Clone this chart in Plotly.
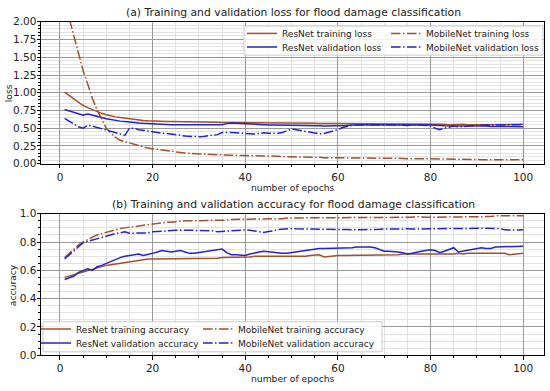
import plotly.graph_objects as go

# ---------------- data ----------------
epochs = list(range(1, 101))

resnet_train_loss = [
    1.01, 0.96, 0.91, 0.86, 0.82, 0.79, 0.76, 0.73, 0.71, 0.69,
    0.67, 0.66, 0.65, 0.64, 0.63, 0.62, 0.615, 0.61, 0.605, 0.60,
    0.60, 0.60, 0.595, 0.595, 0.595, 0.59, 0.59, 0.595, 0.59, 0.59,
    0.59, 0.585, 0.585, 0.585, 0.58, 0.585, 0.58, 0.58, 0.58, 0.575,
    0.575, 0.575, 0.57, 0.575, 0.575, 0.57, 0.575, 0.57, 0.57, 0.57,
    0.57, 0.575, 0.57, 0.57, 0.57, 0.565, 0.57, 0.565, 0.565, 0.565,
    0.565, 0.565, 0.56, 0.565, 0.56, 0.565, 0.56, 0.56, 0.56, 0.56,
    0.56, 0.56, 0.555, 0.56, 0.56, 0.555, 0.56, 0.555, 0.555, 0.555,
    0.555, 0.555, 0.555, 0.55, 0.555, 0.55, 0.555, 0.55, 0.55, 0.55,
    0.55, 0.55, 0.55, 0.55, 0.545, 0.55, 0.55, 0.545, 0.55, 0.555,
]

resnet_val_loss = [
    0.765, 0.745, 0.725, 0.705, 0.685, 0.70, 0.68, 0.665, 0.65, 0.635,
    0.62, 0.61, 0.60, 0.595, 0.585, 0.58, 0.575, 0.57, 0.565, 0.565,
    0.56, 0.555, 0.555, 0.55, 0.55, 0.55, 0.55, 0.55, 0.545, 0.545,
    0.545, 0.545, 0.545, 0.545, 0.55, 0.565, 0.575, 0.57, 0.565, 0.56,
    0.555, 0.555, 0.55, 0.55, 0.545, 0.545, 0.545, 0.545, 0.54, 0.54,
    0.54, 0.54, 0.535, 0.535, 0.535, 0.535, 0.53, 0.53, 0.535, 0.535,
    0.54, 0.54, 0.545, 0.545, 0.545, 0.54, 0.545, 0.545, 0.545, 0.54,
    0.54, 0.54, 0.535, 0.54, 0.54, 0.535, 0.54, 0.545, 0.55, 0.55,
    0.545, 0.54, 0.535, 0.535, 0.54, 0.535, 0.53, 0.535, 0.535, 0.53,
    0.53, 0.53, 0.525, 0.53, 0.525, 0.525, 0.525, 0.52, 0.52, 0.52,
]

mobilenet_train_loss = [
    2.70, 2.05, 1.80, 1.55, 1.31, 1.12, 0.92, 0.76, 0.62, 0.50,
    0.43, 0.37, 0.33, 0.31, 0.29, 0.27, 0.25, 0.235, 0.22, 0.21,
    0.20, 0.19, 0.18, 0.17, 0.165, 0.155, 0.15, 0.145, 0.14, 0.135,
    0.13, 0.13, 0.13, 0.125, 0.125, 0.12, 0.12, 0.12, 0.115, 0.115,
    0.115, 0.11, 0.11, 0.11, 0.105, 0.105, 0.105, 0.10, 0.10, 0.10,
    0.095, 0.095, 0.095, 0.09, 0.09, 0.09, 0.085, 0.085, 0.085, 0.08,
    0.08, 0.085, 0.08, 0.08, 0.08, 0.08, 0.08, 0.08, 0.075, 0.08,
    0.075, 0.075, 0.075, 0.075, 0.07, 0.075, 0.07, 0.07, 0.07, 0.07,
    0.07, 0.07, 0.065, 0.065, 0.065, 0.065, 0.06, 0.06, 0.06, 0.06,
    0.055, 0.055, 0.05, 0.045, 0.045, 0.045, 0.05, 0.055, 0.055, 0.055,
]

mobilenet_val_loss = [
    0.64, 0.60, 0.56, 0.52, 0.50, 0.54, 0.53, 0.51, 0.50, 0.48,
    0.46, 0.44, 0.42, 0.40, 0.50, 0.50, 0.48, 0.47, 0.45, 0.445,
    0.44, 0.43, 0.425, 0.42, 0.41, 0.40, 0.39, 0.385, 0.385, 0.38,
    0.385, 0.39, 0.40, 0.41, 0.44, 0.445, 0.44, 0.435, 0.43, 0.43,
    0.425, 0.42, 0.425, 0.435, 0.43, 0.425, 0.43, 0.44, 0.47, 0.49,
    0.48, 0.47, 0.45, 0.44, 0.43, 0.42, 0.425, 0.44, 0.46, 0.48,
    0.51, 0.53, 0.54, 0.545, 0.55, 0.55, 0.545, 0.55, 0.555, 0.55,
    0.55, 0.545, 0.55, 0.545, 0.54, 0.545, 0.55, 0.545, 0.54, 0.53,
    0.50, 0.48, 0.50, 0.52, 0.53, 0.52, 0.525, 0.53, 0.535, 0.54,
    0.54, 0.545, 0.54, 0.55, 0.545, 0.55, 0.545, 0.55, 0.55, 0.555,
]

resnet_train_acc = [
    0.55, 0.56, 0.57, 0.58, 0.59, 0.60, 0.61, 0.615, 0.625, 0.635,
    0.64, 0.645, 0.655, 0.66, 0.665, 0.67, 0.67, 0.675, 0.68, 0.68,
    0.68, 0.68, 0.68, 0.685, 0.685, 0.685, 0.68, 0.68, 0.68, 0.68,
    0.685, 0.685, 0.685, 0.685, 0.69, 0.69, 0.69, 0.695, 0.695, 0.695,
    0.695, 0.70, 0.70, 0.70, 0.695, 0.70, 0.70, 0.70, 0.70, 0.70,
    0.70, 0.70, 0.70, 0.705, 0.705, 0.71, 0.695, 0.70, 0.705, 0.705,
    0.705, 0.705, 0.71, 0.71, 0.71, 0.71, 0.71, 0.71, 0.71, 0.71,
    0.71, 0.71, 0.71, 0.715, 0.715, 0.71, 0.715, 0.715, 0.715, 0.715,
    0.715, 0.715, 0.715, 0.715, 0.715, 0.72, 0.715, 0.72, 0.72, 0.72,
    0.72, 0.72, 0.72, 0.725, 0.725, 0.72, 0.71, 0.715, 0.72, 0.72,
]

resnet_val_acc = [
    0.535, 0.545, 0.56, 0.585, 0.60, 0.61, 0.60, 0.625, 0.635, 0.65,
    0.665, 0.68, 0.69, 0.70, 0.705, 0.715, 0.715, 0.705, 0.71, 0.72,
    0.73, 0.74, 0.735, 0.73, 0.735, 0.74, 0.73, 0.72, 0.72, 0.725,
    0.73, 0.735, 0.74, 0.745, 0.75, 0.725, 0.71, 0.71, 0.705, 0.705,
    0.715, 0.725, 0.73, 0.735, 0.73, 0.725, 0.725, 0.72, 0.72, 0.725,
    0.735, 0.74, 0.745, 0.745, 0.75, 0.755, 0.755, 0.755, 0.76, 0.76,
    0.76, 0.76, 0.76, 0.765, 0.765, 0.77, 0.765, 0.76, 0.745, 0.735,
    0.735, 0.735, 0.73, 0.725, 0.715, 0.72, 0.73, 0.735, 0.74, 0.745,
    0.74, 0.725, 0.735, 0.745, 0.76, 0.73, 0.735, 0.74, 0.745, 0.75,
    0.76, 0.755, 0.755, 0.765, 0.765, 0.765, 0.765, 0.765, 0.765, 0.77,
]

mobilenet_train_acc = [
    0.69, 0.72, 0.75, 0.78, 0.80, 0.82, 0.835, 0.85, 0.86, 0.87,
    0.88, 0.89, 0.895, 0.90, 0.905, 0.91, 0.915, 0.92, 0.925, 0.93,
    0.935, 0.94, 0.94, 0.94, 0.945, 0.945, 0.95, 0.95, 0.95, 0.955,
    0.955, 0.955, 0.955, 0.955, 0.955, 0.955, 0.96, 0.96, 0.96, 0.96,
    0.96, 0.96, 0.96, 0.965, 0.965, 0.965, 0.965, 0.965, 0.97, 0.97,
    0.97, 0.97, 0.97, 0.97, 0.97, 0.97, 0.975, 0.975, 0.975, 0.975,
    0.975, 0.975, 0.975, 0.975, 0.975, 0.975, 0.975, 0.975, 0.975, 0.975,
    0.975, 0.975, 0.975, 0.975, 0.975, 0.975, 0.98, 0.975, 0.975, 0.975,
    0.975, 0.98, 0.98, 0.98, 0.98, 0.98, 0.98, 0.98, 0.98, 0.98,
    0.98, 0.98, 0.98, 0.985, 0.985, 0.985, 0.985, 0.985, 0.985, 0.985,
]

mobilenet_val_acc = [
    0.68, 0.71, 0.74, 0.77, 0.795, 0.805, 0.815, 0.825, 0.835, 0.845,
    0.855, 0.86, 0.865, 0.872, 0.862, 0.862, 0.862, 0.862, 0.865, 0.872,
    0.875, 0.88, 0.882, 0.884, 0.884, 0.884, 0.884, 0.884, 0.882, 0.882,
    0.884, 0.884, 0.88, 0.872, 0.874, 0.88, 0.882, 0.884, 0.886, 0.886,
    0.884, 0.88, 0.872, 0.868, 0.874, 0.878, 0.888, 0.892, 0.895, 0.895,
    0.893, 0.893, 0.892, 0.892, 0.89, 0.89, 0.89, 0.89, 0.89, 0.89,
    0.89, 0.888, 0.886, 0.886, 0.886, 0.886, 0.886, 0.888, 0.89, 0.892,
    0.893, 0.893, 0.893, 0.893, 0.893, 0.892, 0.892, 0.893, 0.893, 0.893,
    0.894, 0.894, 0.894, 0.895, 0.895, 0.895, 0.896, 0.896, 0.897, 0.897,
    0.898, 0.898, 0.899, 0.90, 0.895, 0.886, 0.884, 0.884, 0.885, 0.886,
]

title_loss = "(a) Training and validation loss for flood damage classification"
title_acc = "(b) Training and validation accuracy for flood damage classification"
xlabel = "number of epochs"

# ---------------- style ----------------
W, H = 550, 391
FONT = "DejaVu Sans"
TXT = "#222222"
BROWN = "#a0522d"
BLUE = "#2424c8"
DASHDOT = "9.6px,2.4px,1.5px,2.4px"
TICK_SIZE = 10.5
LEGEND_SIZE = 9
LABEL_SIZE = 9.2
TITLE_SIZE = 10.8


def fx(p):
    return p / W


def fy(p):
    return 1 - p / H


fig = go.Figure()

loss_series = [
    (resnet_train_loss, "ResNet training loss", BROWN, "solid", "legend", (282, 28.3)),
    (resnet_val_loss, "ResNet validation loss", BLUE, "solid", "legend2", (282, 42.3)),
    (mobilenet_train_loss, "MobileNet training loss", BROWN, DASHDOT, "legend3", (426, 28.3)),
    (mobilenet_val_loss, "MobileNet validation loss", BLUE, DASHDOT, "legend4", (426, 42.3)),
]
acc_series = [
    (resnet_train_acc, "ResNet training accuracy", BROWN, "solid", "legend5", (76, 333.3)),
    (resnet_val_acc, "ResNet validation accuracy", BLUE, "solid", "legend6", (76, 347.7)),
    (mobilenet_train_acc, "MobileNet training accuracy", BROWN, DASHDOT, "legend7", (238, 333.3)),
    (mobilenet_val_acc, "MobileNet validation accuracy", BLUE, DASHDOT, "legend8", (238, 347.7)),
]

legend_layout = {}
for series, xa, ya in [(loss_series, "x", "y"), (acc_series, "x2", "y2")]:
    for vals, name, color, dash, leg, (tx, ty) in series:
        fig.add_trace(go.Scatter(
            x=epochs, y=vals, name=name, mode="lines",
            line=dict(color=color, width=1.5, dash=dash),
            xaxis=xa, yaxis=ya, legend=leg, showlegend=True,
        ))
        legend_layout[leg] = dict(
            x=fx(tx - 40), y=fy(ty), xanchor="left", yanchor="middle",
            bgcolor="rgba(0,0,0,0)", borderwidth=0,
            font=dict(family=FONT, size=LEGEND_SIZE, color=TXT),
            itemclick=False, itemdoubleclick=False,
        )

XDOM = [fx(41), fx(544)]
common_x = dict(
    domain=XDOM, range=[-4.1, 104.5], tick0=0, dtick=20,
    ticks="outside", ticklen=3.5, tickwidth=1, tickcolor="black",
    showline=True, linecolor="black", linewidth=1, mirror=True,
    showgrid=True, gridcolor="#9a9a9a", gridwidth=1, zeroline=False,
    tickfont=dict(family=FONT, size=TICK_SIZE, color=TXT),
    minor=dict(dtick=5, tick0=0, ticks="outside", ticklen=2, tickcolor="black",
               showgrid=True, gridcolor="#e2e2e2", gridwidth=0.6),
)
common_y = dict(
    ticks="outside", ticklen=3.5, tickwidth=1, tickcolor="black",
    showline=True, linecolor="black", linewidth=1, mirror=True,
    showgrid=True, gridcolor="#9a9a9a", gridwidth=1, zeroline=False,
    ticklabelstandoff=-2,
    tickfont=dict(family=FONT, size=TICK_SIZE, color=TXT),
)

fig.update_layout(
    width=W, height=H,
    margin=dict(l=0, r=0, t=0, b=0),
    paper_bgcolor="white", plot_bgcolor="white",
    xaxis=dict(common_x, anchor="y"),
    xaxis2=dict(common_x, anchor="y2"),
    yaxis=dict(common_y, anchor="x", domain=[fy(162.7), fy(16.3)], range=[0, 2],
               tick0=0, dtick=0.25, tickformat=".2f",
               minor=dict(dtick=0.05, tick0=0, ticks="outside", ticklen=2, tickcolor="black",
                          showgrid=True, gridcolor="#e2e2e2", gridwidth=0.6)),
    yaxis2=dict(common_y, anchor="x2", domain=[fy(360.3), fy(214.3)], range=[0, 1],
                tick0=0, dtick=0.2, tickformat=".1f",
                minor=dict(dtick=0.05, tick0=0, ticks="outside", ticklen=2, tickcolor="black",
                           showgrid=True, gridcolor="#e2e2e2", gridwidth=0.6)),
    **legend_layout,
)

# legend frames
for (x0, y0, x1, y1) in [(244, 20.7, 543, 50.7), (43, 325.7, 382, 356.7)]:
    fig.add_shape(type="rect", xref="paper", yref="paper",
                  x0=fx(x0), x1=fx(x1), y0=fy(y1), y1=fy(y0),
                  line=dict(color="#cccccc", width=1),
                  fillcolor="rgba(255,255,255,0.85)", layer="above")

anns = [
    (293, 7, title_loss, TITLE_SIZE, 0),
    (293, 205, title_acc, TITLE_SIZE, 0),
    (293, 187, xlabel, LABEL_SIZE, 0),
    (293, 384.5, xlabel, LABEL_SIZE, 0),
    (8, 90, "loss", LABEL_SIZE, -90),
    (12, 288, "accuracy", LABEL_SIZE, -90),
]
for x, y, text, size, ang in anns:
    fig.add_annotation(x=fx(x), y=fy(y), xref="paper", yref="paper", text=text,
                       showarrow=False, xanchor="center", yanchor="middle",
                       textangle=ang, font=dict(family=FONT, size=size, color=TXT))

fig.write_html("out.html", config={"displayModeBar": False},
               post_script="document.body.style.margin='0px';document.body.style.overflow='hidden';")
